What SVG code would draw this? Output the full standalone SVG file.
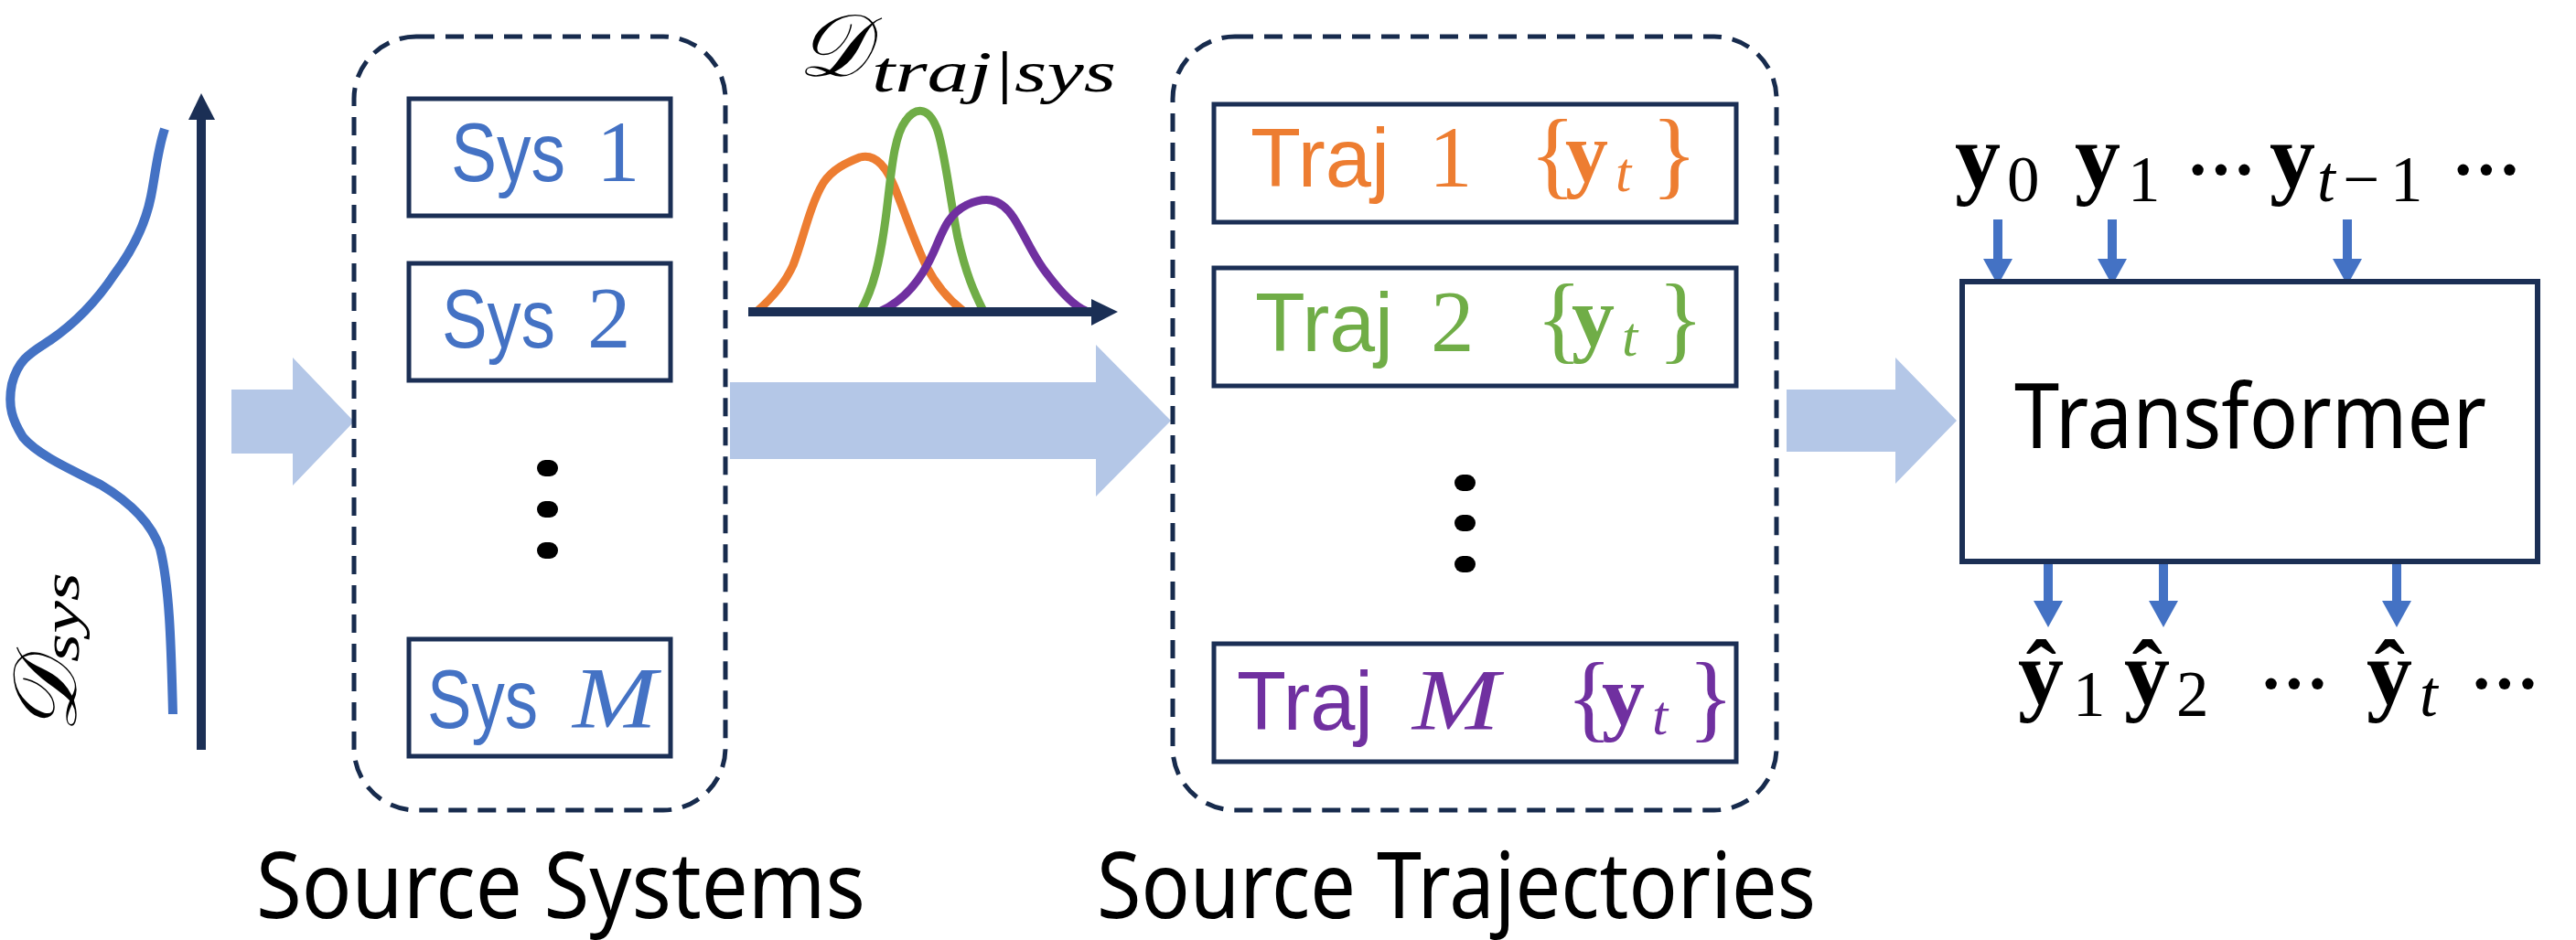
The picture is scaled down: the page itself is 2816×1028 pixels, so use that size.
<svg xmlns="http://www.w3.org/2000/svg" width="2816" height="1028" viewBox="0 0 2816 1028">
<defs>
<style>
.dash{fill:none;stroke:#172B4D;stroke-width:5;stroke-dasharray:20 12}
.big{fill:#B4C7E7}
.sans{font-family:"Liberation Sans",Arial,sans-serif}
.ser{font-family:"Liberation Serif","Times New Roman",serif}
.ui{font-family:"Noto Sans","Open Sans",sans-serif;fill:#000}
.dot{fill:#000}
.io{stroke:#4472C4;stroke-width:10;fill:none}
.curve{fill:none;stroke-width:9;stroke-linejoin:round}
.nb{fill:#fff;stroke:#1B2F55;stroke-width:5}
</style>
<marker id="ioHead" markerWidth="3.2" markerHeight="3.2" refX="0" refY="1.6" orient="auto" markerUnits="strokeWidth">
<path d="M0,0 L2.9,1.6 L0,3.2 Z" fill="#4472C4"/>
</marker>
</defs>

<!-- D_sys distribution -->
<g id="dsys">
<path d="M180,141 C172,165 170,190 165,215 C158,250 140,280 125,300 C105,330 80,355 55,372 C35,385 20,392 13,420 C8,445 14,460 25,478 C40,496 70,510 110,530 C140,548 165,570 175,600 C185,640 187,700 189,781" fill="none" stroke="#4472C4" stroke-width="10"/>
<line x1="220" y1="820" x2="220" y2="128" stroke="#1B2F55" stroke-width="10"/>
<path d="M206,131 L220,102 L235,131 Z" fill="#1B2F55"/>
<g transform="translate(83,802) rotate(-90)">
<text class="ser" x="0" y="0" font-size="98" font-style="italic" fill="#000">𝒟<tspan x="78" dy="3" font-size="58" textLength="98" lengthAdjust="spacingAndGlyphs">sys</tspan></text>
</g>
</g>

<!-- connectors -->
<g id="connectors">
<path class="big" d="M253,426 L320,426 L320,391 L387,461 L320,531 L320,496 L253,496 Z"/>
<path class="big" d="M798,418 L1198,418 L1198,377 L1280,460 L1198,543 L1198,502 L798,502 Z"/>
<path class="big" d="M1953,426 L2072,426 L2072,391 L2139,460 L2072,529 L2072,494 L1953,494 Z"/>
<line class="io" x1="2184" y1="240" x2="2184" y2="283" marker-end="url(#ioHead)"/>
<line class="io" x1="2309" y1="240" x2="2309" y2="283" marker-end="url(#ioHead)"/>
<line class="io" x1="2566" y1="240" x2="2566" y2="283" marker-end="url(#ioHead)"/>
<line class="io" x1="2239" y1="614" x2="2239" y2="657" marker-end="url(#ioHead)"/>
<line class="io" x1="2365" y1="614" x2="2365" y2="657" marker-end="url(#ioHead)"/>
<line class="io" x1="2620" y1="614" x2="2620" y2="657" marker-end="url(#ioHead)"/>
</g>

<!-- Source systems -->
<g id="source-systems">
<rect class="dash" x="387" y="40" width="406" height="846" rx="68" ry="68"/>
<g id="sys1">
<rect class="nb" x="447" y="108" width="286" height="128"/>
<text x="493" y="198" fill="#4472C4"><tspan class="sans" font-size="90" textLength="125" lengthAdjust="spacingAndGlyphs">Sys</tspan><tspan class="ser" x="652" font-size="95">1</tspan></text>
</g>
<g id="sys2">
<rect class="nb" x="447" y="288" width="286" height="128"/>
<text x="483" y="380" fill="#4472C4"><tspan class="sans" font-size="90" textLength="124" lengthAdjust="spacingAndGlyphs">Sys</tspan><tspan class="ser" x="642" font-size="95">2</tspan></text>
</g>
<g id="sys-dots">
<rect class="dot" x="587" y="503" width="23" height="18" rx="9"/>
<rect class="dot" x="587" y="548" width="23" height="18" rx="9"/>
<rect class="dot" x="587" y="593" width="23" height="18" rx="9"/>
</g>
<g id="sysM">
<rect class="nb" x="447" y="699" width="286" height="128"/>
<text x="467" y="796" fill="#4472C4"><tspan class="sans" font-size="90" textLength="121" lengthAdjust="spacingAndGlyphs">Sys</tspan><tspan class="ser" x="626" font-size="95" font-style="italic" textLength="92" lengthAdjust="spacingAndGlyphs">M</tspan></text>
</g>
<text class="ui" x="280" y="1004" font-size="100" textLength="666" lengthAdjust="spacingAndGlyphs">Source Systems</text>
</g>

<!-- D_traj|sys -->
<g id="dtraj">
<text class="ser" x="872" y="83" font-size="96" font-style="italic" fill="#000">𝒟<tspan x="953" dy="17" font-size="64" textLength="267" lengthAdjust="spacingAndGlyphs">traj|sys</tspan></text>
<path class="curve" stroke="#ED7D31" d="M828,340 C845,325 858,310 867,290 C878,262 885,225 900,200 C910,185 925,178 940,172 C955,168 968,180 978,205 C990,235 1000,265 1012,290 C1025,315 1040,330 1053,340"/>
<path class="curve" stroke="#70AD47" d="M941,340 C955,315 962,285 968,240 C974,195 976,150 990,132 C1000,118 1014,115 1024,140 C1032,160 1038,215 1047,260 C1056,300 1065,320 1075,340"/>
<path class="curve" stroke="#7030A0" d="M963,340 C985,330 1005,310 1020,277 C1030,255 1035,235 1057,224 C1075,216 1092,214 1108,238 C1122,260 1130,282 1145,300 C1160,320 1175,335 1187,340"/>
<line x1="818" y1="341" x2="1196" y2="341" stroke="#1B2F55" stroke-width="10"/>
<path d="M1193,327 L1222,341 L1193,356 Z" fill="#1B2F55"/>
</g>

<!-- Source trajectories -->
<g id="source-trajectories">
<rect class="dash" x="1282" y="40" width="660" height="846" rx="68" ry="68"/>
<g id="traj1">
<rect class="nb" x="1327" y="114" width="571" height="129"/>
<text x="1367" y="204" fill="#ED7D31"><tspan class="sans" font-size="90" textLength="152" lengthAdjust="spacingAndGlyphs">Traj</tspan><tspan class="ser" x="1562" font-size="95">1</tspan><tspan class="ser" x="1672" font-size="105">{</tspan><tspan class="ser" x="1711" dy="-6" font-size="94" font-weight="bold">y</tspan><tspan class="ser" x="1766" dy="11" font-size="62" font-style="italic">t</tspan><tspan class="ser" x="1805" dy="-5" font-size="105">}</tspan></text>
</g>
<g id="traj2">
<rect class="nb" x="1327" y="293" width="571" height="129"/>
<text x="1372" y="384" fill="#70AD47"><tspan class="sans" font-size="90" textLength="151" lengthAdjust="spacingAndGlyphs">Traj</tspan><tspan class="ser" x="1564" font-size="95">2</tspan><tspan class="ser" x="1679" font-size="105">{</tspan><tspan class="ser" x="1718" dy="-6" font-size="94" font-weight="bold">y</tspan><tspan class="ser" x="1773" dy="11" font-size="62" font-style="italic">t</tspan><tspan class="ser" x="1812" dy="-5" font-size="105">}</tspan></text>
</g>
<g id="traj-dots">
<rect class="dot" x="1590" y="519" width="23" height="18" rx="9"/>
<rect class="dot" x="1590" y="563" width="23" height="18" rx="9"/>
<rect class="dot" x="1590" y="608" width="23" height="18" rx="9"/>
</g>
<g id="trajM">
<rect class="nb" x="1327" y="704" width="571" height="129"/>
<text x="1352" y="798" fill="#7030A0"><tspan class="sans" font-size="90" textLength="149" lengthAdjust="spacingAndGlyphs">Traj</tspan><tspan class="ser" x="1544" font-size="95" font-style="italic" textLength="95" lengthAdjust="spacingAndGlyphs">M</tspan><tspan class="ser" x="1712" font-size="105">{</tspan><tspan class="ser" x="1751" dy="-6" font-size="94" font-weight="bold">y</tspan><tspan class="ser" x="1806" dy="11" font-size="62" font-style="italic">t</tspan><tspan class="ser" x="1845" dy="-5" font-size="105">}</tspan></text>
</g>
<text class="ui" x="1199" y="1004" font-size="100" textLength="786" lengthAdjust="spacingAndGlyphs">Source Trajectories</text>
</g>

<!-- Transformer -->
<g id="transformer">
<rect x="2145" y="308" width="629" height="306" fill="#fff" stroke="#1B2F55" stroke-width="6"/>
<text class="ui" x="2202" y="490" font-size="98" textLength="516" lengthAdjust="spacingAndGlyphs">Transformer</text>
</g>

<g id="inputs" class="ser" fill="#000">
<text x="2137" y="205" font-size="100" font-weight="bold">y<tspan x="2194" dy="15" font-size="71" font-weight="normal">0</tspan></text>
<text x="2268" y="205" font-size="100" font-weight="bold">y<tspan x="2326" dy="15" font-size="71" font-weight="normal">1</tspan></text>
<text x="2390" y="211" font-size="76" font-weight="bold">···</text>
<text x="2481" y="205" font-size="100" font-weight="bold">y<tspan x="2533" dy="15" font-size="71" font-weight="normal" font-style="italic">t</tspan><tspan x="2561" font-size="71" font-weight="normal">−</tspan><tspan x="2613" font-size="71" font-weight="normal">1</tspan></text>
<text x="2680" y="211" font-size="76" font-weight="bold">···</text>
</g>

<g id="outputs" class="ser" fill="#000">
<text x="2206" y="770" font-size="100" font-weight="bold">ŷ<tspan x="2266" dy="13" font-size="71" font-weight="normal">1</tspan></text>
<text x="2322" y="770" font-size="100" font-weight="bold">ŷ<tspan x="2379" dy="13" font-size="71" font-weight="normal">2</tspan></text>
<text x="2470" y="773" font-size="76" font-weight="bold">···</text>
<text x="2587" y="770" font-size="100" font-weight="bold">ŷ<tspan x="2645" dy="13" font-size="71" font-weight="normal" font-style="italic">t</tspan></text>
<text x="2700" y="773" font-size="76" font-weight="bold">···</text>
</g>
</svg>
